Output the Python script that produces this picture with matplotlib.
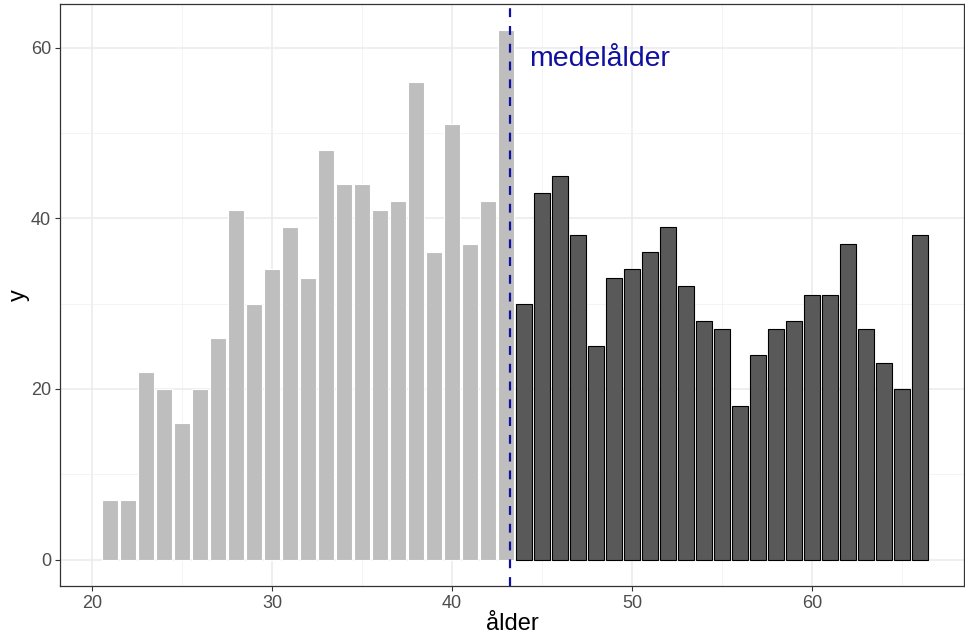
import matplotlib
matplotlib.use("Agg")
import matplotlib.pyplot as plt
from matplotlib.ticker import MultipleLocator

ages_young = list(range(21, 44))
counts_young = [7, 7, 22, 20, 16, 20, 26, 41, 30, 34, 39, 33, 48, 44, 44, 41, 42, 56, 36, 51, 37, 42, 62]
ages_old = list(range(44, 67))
counts_old = [30, 43, 45, 38, 25, 33, 34, 36, 39, 32, 28, 27, 18, 24, 27, 28, 31, 31, 37, 27, 23, 20, 38]
mean_age = 43.2
annot_text = "medelålder"
x_ticks = [20, 30, 40, 50, 60]
y_ticks = [0, 20, 40, 60]

plt.rcParams['font.family'] = ['Liberation Sans', 'DejaVu Sans']

W, H = 965, 641
fig = plt.figure(figsize=(W / 100, H / 100), dpi=100)
ax = fig.add_axes([60 / W, (H - 586) / H, (964 - 60) / W, (586 - 4) / H])

ax.bar(ages_young, counts_young, width=0.9, color='#BEBEBE', edgecolor='white', linewidth=0.8, zorder=2)
ax.bar(ages_old, counts_old, width=0.9, color='#595959', edgecolor='black', linewidth=0.8, zorder=2)
ax.axvline(mean_age, color='#1010A0', linestyle=(0, (4, 4)), linewidth=1.6, zorder=3)
ax.text(44.3, 58.6, annot_text, color='#1010A0', fontsize=20.5, ha='left', va='center', zorder=4)

ax.set_xlim(18.22, 68.44)
ax.set_ylim(-3.1, 65.1)
ax.set_xticks(x_ticks)
ax.set_yticks(y_ticks)
ax.xaxis.set_minor_locator(MultipleLocator(5))
ax.yaxis.set_minor_locator(MultipleLocator(10))
ax.grid(which='major', color='#EBEBEB', linewidth=1.1, zorder=0)
ax.grid(which='minor', color='#F2F2F2', linewidth=0.6, zorder=0)
ax.set_axisbelow(True)
ax.tick_params(which='minor', length=0)
ax.tick_params(which='major', length=3.5, color='#333333', labelsize=13, labelcolor='#4D4D4D', pad=3)
for s in ax.spines.values():
    s.set_color('#333333')
    s.set_linewidth(0.9)

ax.set_xlabel('ålder', fontsize=17, labelpad=1)
ax.set_ylabel('y', fontsize=17, va='center')
ax.yaxis.set_label_coords(-0.045, 0.5)

fig.savefig('out.png', dpi=100)
